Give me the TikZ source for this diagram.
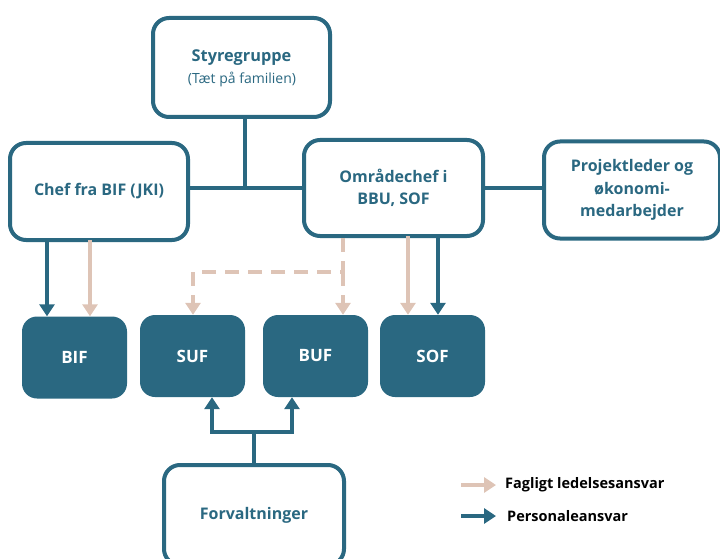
\documentclass[tikz,border=0pt]{standalone}
\usepackage{fontspec}
\setmainfont{Open Sans}
\usetikzlibrary{arrows.meta}
\definecolor{teal}{HTML}{2A6881}
\definecolor{beige}{HTML}{DEC4B6}
\tikzset{
  wbox/.style={draw=teal, line width=4pt, rounded corners=16pt, fill=white, text=teal, font=\bfseries\fontsize{16}{22.5}\selectfont, align=center, inner sep=0pt},
  fbox/.style={fill=teal, rounded corners=15pt, text=white, font=\bfseries\fontsize{17}{20}\selectfont, inner sep=0pt, minimum width=105pt, minimum height=82pt},
  tline/.style={draw=teal, line width=4pt},
  tarrow/.style={tline, -{Triangle[length=12pt,width=15pt]}},
  barrow/.style={draw=beige, line width=4pt, -{Triangle[length=12pt,width=15pt]}},
  bline/.style={draw=beige, line width=4pt},
  dashy/.style={dash pattern=on 14pt off 9pt},
  legtext/.style={font=\bfseries\fontsize{14.5}{17}\selectfont, anchor=west, inner sep=0pt}
}
\begin{document}
\begin{tikzpicture}[x=1pt,y=-1pt]
\useasboundingbox (0,0) rectangle (720,559);
% white boxes
\node[wbox, minimum width=177pt, minimum height=99pt] (sty) at (241.5,67.5) {};
\node[text=teal, font=\bfseries\fontsize{16.3}{19}\selectfont] (styt) at (241.5,58) {Styregruppe};
\node[text=teal, font=\fontsize{14}{16}\selectfont] (stys) at (242,79) {(Tæt på familien)};
\node[wbox, minimum width=178pt, minimum height=97pt] (chef) at (99,191.5) {Chef fra BIF (JKI)};
\node[wbox, minimum width=179pt, minimum height=96pt] (omr) at (393.5,188) {Områdechef i\\BBU, SOF};
\node[wbox, minimum width=176pt, minimum height=97pt] (proj) at (632,190) {Projektleder og\\økonomi-\\medarbejder};
\node[wbox, minimum width=180pt, minimum height=100pt] (forv) at (254,515) {Forvaltninger};
% filled boxes
\node[fbox] (bif) at (74.5,357.5) {BIF};
\node[fbox] (suf) at (192.5,356) {SUF};
\node[fbox] (buf) at (315.5,356) {BUF};
\node[fbox] (sof) at (432.5,356) {SOF};
% connectors top
\coordinate (j1) at (245,188);
\draw[tline] (sty.south -| j1) -- (j1);
\draw[tline] (chef.east |- j1) -- (omr.west |- j1);
\draw[tline] (omr.east |- j1) -- (proj.west |- j1);
% chef to BIF
\draw[tarrow] (47,240) -- (bif.north -| 47,0);
\draw[barrow] (90,240) -- (bif.north -| 90,0);
% dashed
\coordinate (d1) at (343,272);
\coordinate (d2) at (193,272);
\draw[barrow, dashy] (omr.south -| d1) -- (d1) -- (d2) -- (suf.north -| d2);
\draw[barrow, dashy] (d1) -- (buf.north -| d1);
% omr to SOF
\draw[barrow] (408,236) -- (sof.north -| 408,0);
\draw[tarrow] (438,236) -- (sof.north -| 438,0);
% forvaltninger
\coordinate (f1) at (254,432);
\coordinate (f2) at (212,432);
\coordinate (f3) at (292,432);
\draw[tline] (forv.north) -- (f1);
\draw[tarrow] (f1) -- (f2) -- (suf.south -| f2);
\draw[tarrow] (f1) -- (f3) -- (buf.south -| f3);
% legend
\coordinate (la1) at (461,485);
\coordinate (la2) at (496,485);
\coordinate (lb1) at (461,516);
\coordinate (lb2) at (496,516);
\draw[barrow] (la1) -- (la2);
\draw[tarrow] (lb1) -- (lb2);
\node[legtext] (lt1) at (505,485) {Fagligt ledelsesansvar};
\node[legtext] (lt2) at (507,516) {Personaleansvar};
\end{tikzpicture}
\end{document}
